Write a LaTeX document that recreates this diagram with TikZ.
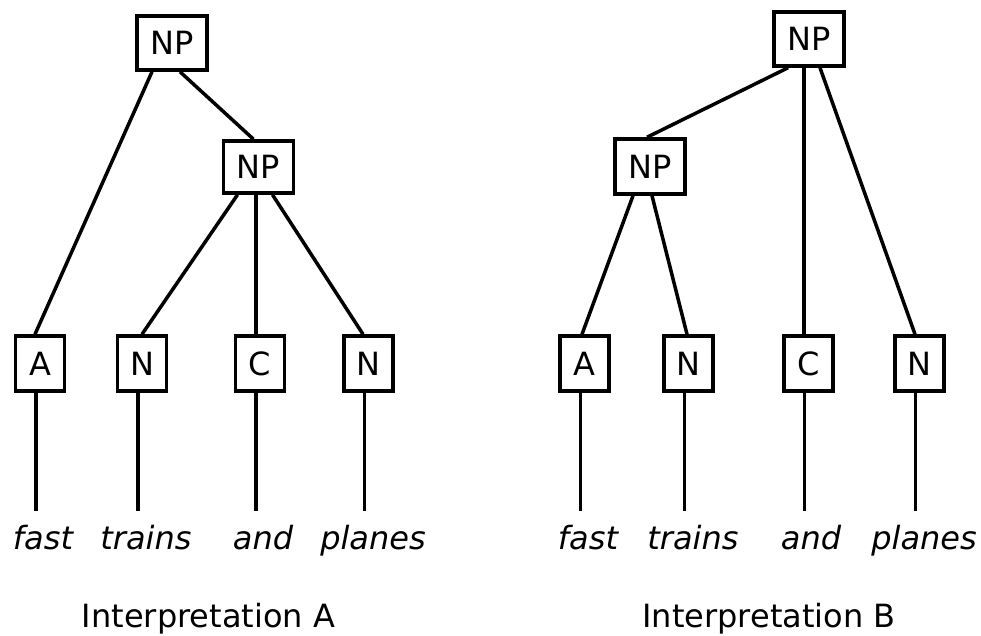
\documentclass[tikz,border=0pt]{standalone}
\usepackage{fontspec}
\setmainfont{DejaVu Sans}
\begin{document}
\begin{tikzpicture}[x=1pt,y=-1pt,
  box/.style={draw=black,line width=3.5pt,inner sep=0pt,minimum width=49pt,minimum height=55pt,font=\fontsize{32pt}{36pt}\selectfont},
  npbox/.style={box,minimum width=70pt,minimum height=54pt},
  word/.style={anchor=base,inner sep=0pt,outer sep=0pt,text height=38pt,font=\fontsize{32pt}{36pt}\selectfont\itshape},
  caption/.style={anchor=base,inner sep=0pt,font=\fontsize{32pt}{36pt}\selectfont},
  edge/.style={line width=3.5pt}]
\useasboundingbox (0,0) rectangle (981,635);
% ---------- Interpretation A ----------
\node[npbox] (npA1) at (172,43) {NP};
\node[npbox,minimum height=52pt] (npA2) at (258.5,167) {NP};
\node[box] (aA) at (40,363.5) {A};
\node[box] (nA1) at (142,363.5) {N};
\node[box] (cA) at (260,363.5) {C};
\node[box] (nA2) at (368.5,363.5) {N};
\node[word] (wA1) at (43,549) {fast};
\node[word] (wA2) at (146,549) {trains};
\node[word] (wA3) at (263,549) {and};
\node[word] (wA4) at (373,549) {planes};
\node[caption] (capA) at (208.5,627) {Interpretation A};
\draw[edge] ([xshift=-20pt]npA1.south) -- ([xshift=-5pt]aA.north);
\draw[edge] ([xshift=8pt]npA1.south) -- ([xshift=-5pt]npA2.north);
\draw[edge] ([xshift=-21pt]npA2.south) -- (nA1.north);
\draw[edge] ([xshift=-4pt]cA.north) -- ([xshift=-4pt]cA.north |- npA2.south);
\draw[edge] ([xshift=14pt]npA2.south) -- ([xshift=-5.5pt]nA2.north);
\foreach \b/\w in {aA/wA1,nA1/wA2,cA/wA3,nA2/wA4}
  \draw[edge] ([xshift=-4pt]\b.south) -- ([xshift=-4pt]\b.south |- \w.north);
% ---------- Interpretation B ----------
\node[npbox] (npB1) at (809,39) {NP};
\node[npbox,minimum height=55pt] (npB2) at (650,166.5) {NP};
\node[box] (aB) at (584.5,363.5) {A};
\node[box] (nB1) at (688.5,363.5) {N};
\node[box] (cB) at (808.5,363.5) {C};
\node[box] (nB2) at (919.5,363.5) {N};
\node[word] (wB1) at (588,549) {fast};
\node[word] (wB2) at (693,549) {trains};
\node[word] (wB3) at (811,549) {and};
\node[word] (wB4) at (924,549) {planes};
\node[caption] (capB) at (769,627) {Interpretation B};
\draw[edge] ([xshift=-21pt]npB1.south) -- ([xshift=-3pt]npB2.north);
\draw[edge] ([xshift=-4.5pt]cB.north) -- ([xshift=-4.5pt]cB.north |- npB1.south);
\draw[edge] ([xshift=11pt]npB1.south) -- ([xshift=-4.5pt]nB2.north);
\draw[edge] ([xshift=-17pt]npB2.south) -- ([xshift=-2.5pt]aB.north);
\draw[edge] ([xshift=2pt]npB2.south) -- ([xshift=-1.5pt]nB1.north);
\foreach \b/\w in {aB/wB1,nB1/wB2,cB/wB3,nB2/wB4}
  \draw[edge] ([xshift=-4pt]\b.south) -- ([xshift=-4pt]\b.south |- \w.north);
\end{tikzpicture}
\end{document}
